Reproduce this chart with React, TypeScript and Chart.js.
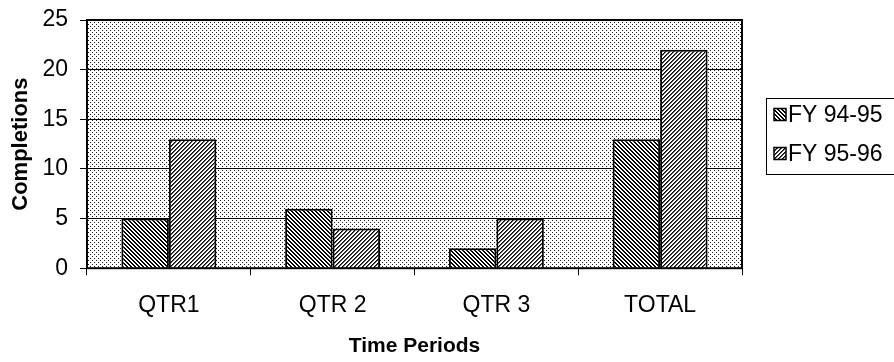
import React, { useEffect, useRef } from "react";
import { Chart, registerables } from "chart.js";

Chart.register(...registerables);

const categories = ["QTR1", "QTR 2", "QTR 3", "TOTAL"];
const fy9495 = [5, 6, 2, 13];
const fy9596 = [13, 4, 5, 22];
const seriesLabels = ["FY 94-95", "FY 95-96"];
const yMin = 0;
const yMax = 25;
const yStep = 5;
const xTitle = "Time Periods";
const yTitle = "Completions";

const FONT = "'Liberation Sans', Arial, sans-serif";

function makePattern(kind: string): CanvasPattern | string {
  const c = document.createElement("canvas");
  c.width = 4;
  c.height = 4;
  const ctx = c.getContext("2d");
  if (!ctx) return "#ccc";
  const img = ctx.createImageData(4, 4);
  for (let y = 0; y < 4; y++) {
    for (let x = 0; x < 4; x++) {
      let v = 255;
      if (kind === "dots") {
        if ((x === 0 && y === 0) || (x === 2 && y === 2)) v = 30;
      } else if (kind === "back") {
        const m = (((x - y) % 4) + 4) % 4;
        if (m === 0 || m === 1) v = 0;
      } else if (kind === "fwd") {
        const m = (x + y) % 4;
        if (m === 0) v = 0;
        else if (m === 1) v = 90;
      }
      const i = (y * 4 + x) * 4;
      img.data[i] = v;
      img.data[i + 1] = v;
      img.data[i + 2] = v;
      img.data[i + 3] = 255;
    }
  }
  ctx.putImageData(img, 0, 0);
  const p = ctx.createPattern(c, "repeat");
  return p || "#ccc";
}

export default function App() {
  const ref = useRef<HTMLCanvasElement | null>(null);

  useEffect(() => {
    document.body.style.margin = "0";
    const canvas = ref.current;
    if (!canvas) return;
    const dots = makePattern("dots");
    const back = makePattern("back");
    const fwd = makePattern("fwd");
    const fills = [back, fwd];

    const bgPlugin = {
      id: "bgPattern",
      beforeDraw(chart: any) {
        const { ctx, chartArea } = chart;
        ctx.save();
        ctx.fillStyle = "#ffffff";
        ctx.fillRect(0, 0, chart.width, chart.height);
        ctx.fillStyle = dots;
        ctx.fillRect(chartArea.left, chartArea.top, chartArea.right - chartArea.left, chartArea.bottom - chartArea.top);
        ctx.restore();
      },
      afterDatasetsDraw(chart: any) {
        const { ctx, chartArea } = chart;
        ctx.save();
        ctx.strokeStyle = "#000";
        ctx.lineWidth = 2;
        ctx.strokeRect(chartArea.left, chartArea.top, chartArea.right - chartArea.left, chartArea.bottom - chartArea.top);
        ctx.restore();
      },
      afterDraw(chart: any) {
        const ctx = chart.ctx;
        ctx.save();
        ctx.strokeStyle = "#000";
        ctx.lineWidth = 1;
        ctx.strokeRect(766.5, 98.5, 150, 76);
        const ys = [114.5, 153.5];
        ctx.font = "23px " + FONT;
        ctx.textBaseline = "middle";
        ctx.textAlign = "left";
        for (let i = 0; i < seriesLabels.length; i++) {
          const y = ys[i];
          ctx.fillStyle = fills[i];
          ctx.fillRect(774, y - 6, 12, 12);
          ctx.lineWidth = 1.5;
          ctx.strokeRect(774, y - 6, 12, 12);
          ctx.fillStyle = "#000";
          ctx.fillText(seriesLabels[i], 788, y + 1);
        }
        ctx.restore();
      },
    };

    const chart = new Chart(canvas, {
      type: "bar",
      data: {
        labels: categories,
        datasets: [
          {
            label: seriesLabels[0],
            data: fy9495,
            backgroundColor: back as any,
            borderColor: "#000",
            borderWidth: 2,
            categoryPercentage: 0.58,
            barPercentage: 1.0,
          },
          {
            label: seriesLabels[1],
            data: fy9596,
            backgroundColor: fwd as any,
            borderColor: "#000",
            borderWidth: 2,
            categoryPercentage: 0.58,
            barPercentage: 1.0,
          },
        ],
      },
      options: {
        animation: false,
        responsive: false,
        maintainAspectRatio: false,
        devicePixelRatio: 1,
        layout: { padding: { top: 20, right: 152, bottom: 0, left: 0 } },
        plugins: {
          legend: { display: false },
          tooltip: { enabled: false },
        },
        scales: {
          x: {
            grid: {
              offset: true,
              drawOnChartArea: false,
              drawTicks: true,
              tickLength: 7,
              color: "#000",
              lineWidth: 1,
            },
            border: { display: false },
            ticks: {
              color: "#000",
              font: { family: FONT, size: 23 },
              padding: 17,
              maxRotation: 0,
            },
            title: {
              display: true,
              text: xTitle,
              color: "#000",
              font: { family: FONT, size: 21, weight: "bold" },
              padding: { top: -3, bottom: 3 },
            },
          },
          y: {
            min: yMin,
            max: yMax,
            afterFit: (scale: any) => {
              scale.paddingTop = 0;
              scale.paddingBottom = 0;
            },
            grid: {
              color: "#000",
              lineWidth: 1,
              drawTicks: true,
              tickLength: 7,
            },
            border: { display: false },
            ticks: {
              stepSize: yStep,
              color: "#000",
              font: { family: FONT, size: 23 },
              padding: 12,
            },
            title: {
              display: true,
              text: yTitle,
              color: "#000",
              font: { family: FONT, size: 22, weight: "bold" },
              padding: { top: 8, bottom: -4 },
            },
          },
        },
      },
      plugins: [bgPlugin],
    });
    return () => chart.destroy();
  }, []);

  return (
    <div style={{ width: 894, height: 362 }}>
      <canvas ref={ref} width={894} height={362} style={{ display: "block", width: 894, height: 362 }} />
    </div>
  );
}
